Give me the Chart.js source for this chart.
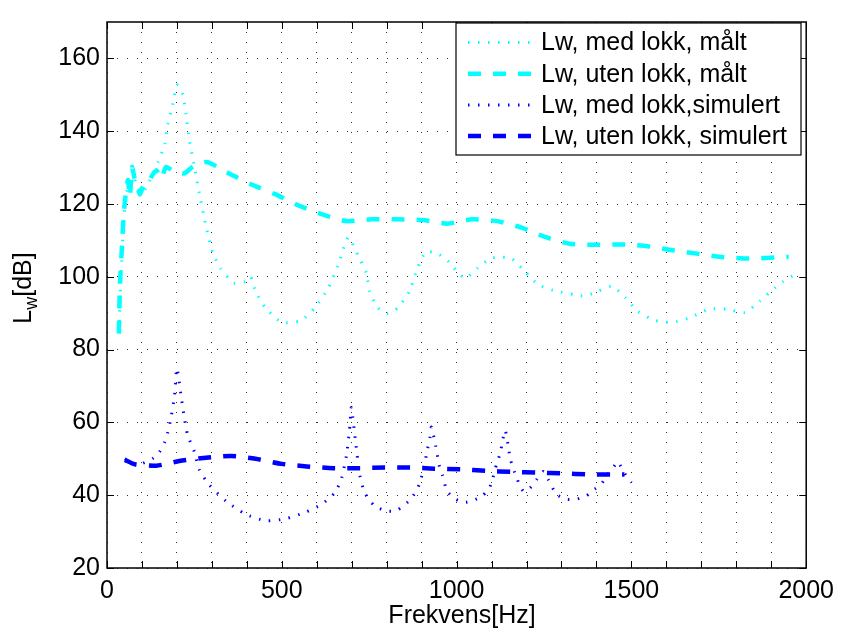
<!DOCTYPE html>
<html>
<head>
<meta charset="utf-8">
<script src="https://cdn.jsdelivr.net/npm/chart.js"></script>
<style>
  body { margin: 0; background: #fff; }
</style>
</head>
<body>
<canvas id="myChart" width="842" height="631"></canvas>
<script>
// Lw, med lokk, målt
const freqMedMalt = [34, 40, 48, 55, 62, 72, 85, 100, 120, 146, 165, 174, 188, 200, 217, 226, 236, 250, 264, 283, 302, 325, 363, 396, 411, 425, 453, 500, 553, 595, 633, 661, 690, 718, 742, 751, 775, 803, 832, 865, 888, 912, 945, 978, 1002, 1025, 1059, 1096, 1130, 1158, 1196, 1234, 1286, 1338, 1366, 1394, 1442, 1465, 1484, 1517, 1565, 1617, 1669, 1721, 1773, 1825, 1867, 1910, 1934, 1965];
const lwMedMalt = [85, 100, 116, 122, 126, 129, 125, 123, 126, 131.5, 136.5, 141.9, 147.3, 152.7, 150, 144.6, 137.4, 130.2, 123, 114, 106.8, 102.3, 98.3, 98.7, 100, 96, 91.5, 87.5, 87.9, 91.5, 96.9, 103.2, 110.8, 105.9, 101, 96, 91.5, 89.9, 91.5, 96, 102.3, 106.8, 106.4, 104.1, 101.4, 99.6, 102.3, 105, 105.4, 105, 101.4, 97.8, 96, 95.1, 94.7, 95.6, 97.4, 96, 94.2, 90.6, 88.1, 87.5, 88.8, 91.1, 91.1, 90.2, 93.3, 96.9, 98.7, 100.5];

// Lw, uten lokk, målt
const freqUtenMalt = [34, 37, 43, 48, 54, 60, 65, 70, 72, 79, 86, 94, 103, 115, 127, 141, 155, 169, 193, 221, 245, 283, 300, 349, 415, 481, 548, 614, 685, 756, 827, 902, 973, 1044, 1115, 1186, 1257, 1323, 1394, 1475, 1546, 1617, 1692, 1763, 1834, 1910, 1950];
const lwUtenMalt = [84.4, 97.8, 108.6, 117.6, 123, 126.6, 122, 128, 130.2, 127, 125, 122.6, 124.8, 125.5, 127.5, 129.3, 127, 130.2, 128.8, 128.4, 130.2, 131.5, 131, 128.4, 125.3, 122.7, 119.6, 117.2, 115.3, 115.8, 115.8, 115.6, 114.6, 115.8, 115.3, 113.5, 110.8, 109.1, 108.8, 108.9, 108.4, 107.3, 106.3, 105.4, 105, 105.3, 105.5];

// Lw, med lokk, simulert
const freqMedSim = [51, 80, 103, 131, 150, 165, 174, 184, 193, 200, 212, 221, 231, 250, 264, 292, 340, 396, 453, 510, 567, 614, 652, 671, 685, 694, 699, 710, 723, 737, 765, 798, 827, 869, 893, 907, 917, 924, 928, 940, 950, 959, 973, 997, 1021, 1049, 1073, 1092, 1101, 1115, 1125, 1130, 1139, 1149, 1153, 1172, 1191, 1210, 1229, 1248, 1262, 1286, 1314, 1342, 1371, 1394, 1413, 1428, 1447, 1461, 1475, 1489, 1500];
const lwMedSim = [50, 48.5, 48.8, 50.1, 51.9, 54.6, 57.3, 61.8, 67.2, 74.9, 67.2, 61.4, 56.4, 51.9, 47, 42.9, 38.4, 34.8, 33, 33.5, 35.3, 37.5, 40.7, 44.7, 51, 58.2, 64.1, 55.5, 45.6, 40.7, 37.1, 35.7, 35.7, 38.9, 42.9, 47.9, 52.8, 56, 58.7, 53.7, 48.3, 45.6, 41.1, 38.9, 38, 38.6, 39.8, 41.6, 43.8, 48.8, 51.5, 54.2, 57.8, 52.8, 50.1, 44.7, 41.1, 42, 44.3, 46.5, 44.3, 40.2, 38.9, 38.9, 39.8, 41.6, 42.9, 45.2, 47.4, 49.2, 47, 44.7, 43.5];

// Lw, uten lokk, simulert
const freqUtenSim = [51, 79, 141, 207, 283, 354, 425, 500, 571, 647, 718, 794, 865, 936, 1011, 1082, 1158, 1229, 1305, 1376, 1451, 1480];
const lwUtenSim = [49.7, 48.5, 48.1, 49.4, 50.3, 50.8, 50, 48.6, 47.9, 47.4, 47.4, 47.6, 47.6, 47.3, 47.1, 46.7, 46.4, 46.2, 46, 45.7, 45.7, 45.7];

const seriesLabels = ["Lw, med lokk, målt", "Lw, uten lokk, målt", "Lw, med lokk,simulert", "Lw, uten lokk, simulert"];
const xTickLabels = [0, 500, 1000, 1500, 2000];

const FONT = "'Liberation Sans', Arial, sans-serif";

function toPoints(xs, ys) {
    return xs.map((x, i) => ({ x: x, y: ys[i] }));
}

const dotted = { borderDash: [1.5, 8.5], borderWidth: 3 };
const dashed = { borderDash: [13, 12], borderWidth: 4.5 };

const matlabFrame = {
    id: "matlabFrame",
    afterDraw(chart) {
        const ctx = chart.ctx;
        const a = chart.chartArea;
        const xs = chart.scales.x;
        const ys = chart.scales.y;

        ctx.save();
        ctx.strokeStyle = "#000";
        ctx.lineWidth = 1;
        ctx.setLineDash([]);
        ctx.beginPath();
        xs.ticks.forEach(t => {
            const px = Math.round(xs.getPixelForValue(t.value)) + 0.5;
            ctx.moveTo(px, a.bottom); ctx.lineTo(px, a.bottom - 7);
            ctx.moveTo(px, a.top); ctx.lineTo(px, a.top + 7);
        });
        ys.ticks.forEach(t => {
            const py = Math.round(ys.getPixelForValue(t.value)) + 0.5;
            ctx.moveTo(a.left, py); ctx.lineTo(a.left + 7, py);
            ctx.moveTo(a.right, py); ctx.lineTo(a.right - 7, py);
        });
        ctx.stroke();
        ctx.lineWidth = 1.5;
        ctx.strokeRect(a.left, a.top, a.right - a.left, a.bottom - a.top);

        // legend
        const lx = 456, ly = 23, lw = 345, lh = 132;
        ctx.fillStyle = "#fff";
        ctx.fillRect(lx, ly, lw, lh);
        ctx.lineWidth = 1.2;
        ctx.strokeRect(lx, ly, lw, lh);
        ctx.font = "25px " + FONT;
        ctx.textBaseline = "middle";
        chart.data.datasets.forEach((ds, i) => {
            const y = 42.5 + i * 31.2;
            ctx.beginPath();
            ctx.strokeStyle = ds.borderColor;
            ctx.lineWidth = ds.borderWidth;
            ctx.setLineDash(ds.borderDash);
            ctx.moveTo(468, y);
            ctx.lineTo(531, y);
            ctx.stroke();
            ctx.setLineDash([]);
            ctx.fillStyle = "#000";
            ctx.fillText(ds.label, 541, y + 1);
        });

        // axis titles
        ctx.fillStyle = "#000";
        ctx.textBaseline = "alphabetic";
        ctx.textAlign = "center";
        ctx.font = "25px " + FONT;
        ctx.fillText("Frekvens[Hz]", 462, 623);

        ctx.translate(31, 288);
        ctx.rotate(-Math.PI / 2);
        ctx.textAlign = "left";
        const big = "25px " + FONT, small = "18px " + FONT;
        ctx.font = big;
        const wL = ctx.measureText("L").width;
        const wB = ctx.measureText("[dB]").width;
        ctx.font = small;
        const wW = ctx.measureText("w").width;
        let sx = -(wL + wW + wB) / 2;
        ctx.font = big;
        ctx.fillText("L", sx, 0);
        ctx.font = small;
        ctx.fillText("w", sx + wL, 6);
        ctx.font = big;
        ctx.fillText("[dB]", sx + wL + wW, 0);
        ctx.restore();
    }
};

new Chart(document.getElementById("myChart"), {
    type: "line",
    data: {
        datasets: [
            { label: seriesLabels[0], data: toPoints(freqMedMalt, lwMedMalt), borderColor: "#00ffff", ...dotted, order: 4 },
            { label: seriesLabels[1], data: toPoints(freqUtenMalt, lwUtenMalt), borderColor: "#00ffff", ...dashed, order: 3 },
            { label: seriesLabels[2], data: toPoints(freqMedSim, lwMedSim), borderColor: "#0000ff", ...dotted, order: 2 },
            { label: seriesLabels[3], data: toPoints(freqUtenSim, lwUtenSim), borderColor: "#0000ff", ...dashed, order: 1 }
        ]
    },
    options: {
        responsive: false,
        devicePixelRatio: 1,
        animation: false,
        layout: { padding: { top: 12, right: 30, left: 0, bottom: 0 } },
        elements: {
            point: { radius: 0 },
            line: { tension: 0.2, fill: false, borderCapStyle: "butt" }
        },
        plugins: {
            legend: { display: false },
            tooltip: { enabled: false }
        },
        scales: {
            x: {
                type: "linear",
                min: 0,
                max: 2000,
                afterFit: s => { s.height = 63; },
                ticks: {
                    stepSize: 100,
                    autoSkip: false,
                    maxRotation: 0,
                    padding: 8,
                    color: "#000",
                    font: { family: FONT, size: 25 },
                    callback: v => xTickLabels.includes(v) ? String(v) : ""
                },
                grid: { color: "#333", lineWidth: 1, drawTicks: false },
                border: { display: false, dash: [1, 9] }
            },
            y: {
                min: 20,
                max: 170,
                afterFit: s => { s.width = 107; },
                ticks: {
                    stepSize: 20,
                    includeBounds: false,
                    padding: 7,
                    color: "#000",
                    font: { family: FONT, size: 25 }
                },
                grid: { color: "#333", lineWidth: 1, drawTicks: false },
                border: { display: false, dash: [1, 9] }
            }
        }
    },
    plugins: [matlabFrame]
});
</script>
</body>
</html>
